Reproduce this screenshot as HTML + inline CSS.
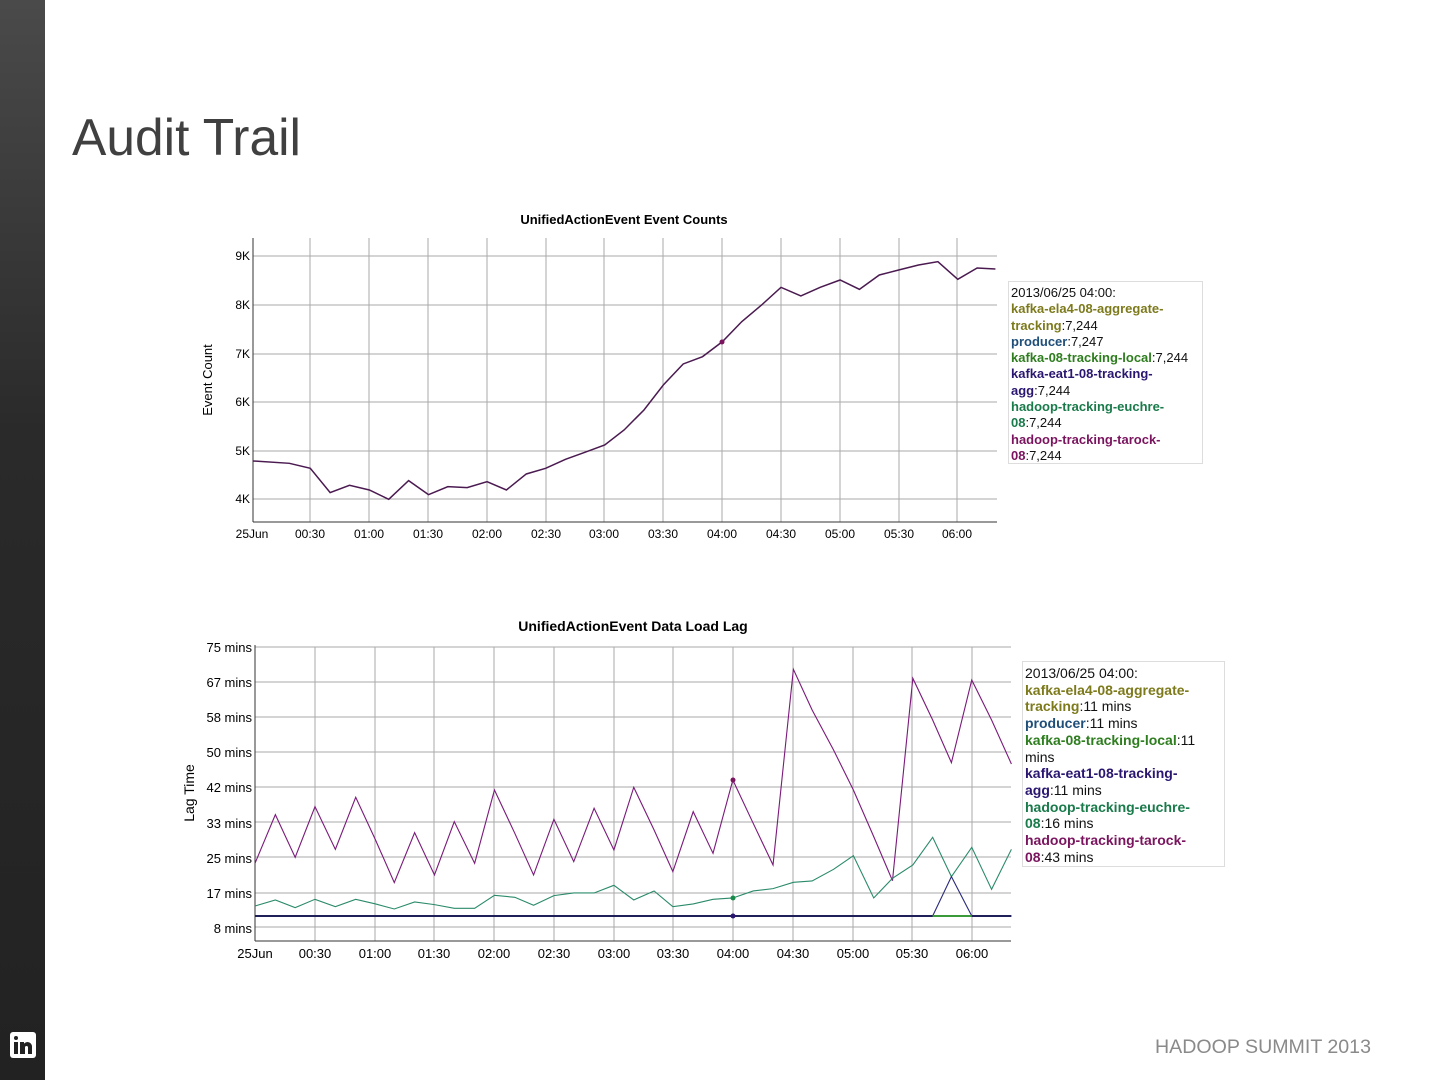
<!DOCTYPE html>
<html><head><meta charset="utf-8"><style>
body{margin:0;width:1440px;height:1080px;background:#fff;position:relative;overflow:hidden;font-family:"Liberation Sans",Arial,sans-serif}
.side{position:absolute;left:0;top:0;width:45px;height:1080px;background:linear-gradient(#4a4a4a,#2a2a2a 40%,#222)}
.title{position:absolute;left:72px;top:107px;font-size:51.5px;color:#404040}
.foot{position:absolute;left:1155px;top:1036px;font-size:19.6px;color:#8a8a8a}
.lg{position:absolute;border:1px solid #ddd;background:#fff;font-size:13px;line-height:16.3px;color:#111;padding:3px 2px;box-sizing:border-box}
.lg b{font-weight:bold}
.c1{color:#7d7a1c}.c2{color:#1f4e79}.c3{color:#2e7d1e}.c4{color:#2a1670}.c5{color:#197a4a}.c6{color:#7a145e}
svg text{font-family:"Liberation Sans",Arial,sans-serif}
</style></head><body>
<div class="side"></div>
<div style="position:absolute;left:10px;top:1032px;width:26px;height:26px;background:#fff;border-radius:3px"><div style="position:absolute;left:4px;top:4px;width:4px;height:4px;background:#222;border-radius:2px"></div><div style="position:absolute;left:4px;top:10px;width:4px;height:12px;background:#222"></div><div style="position:absolute;left:10px;top:10px;width:4px;height:12px;background:#222"></div><div style="position:absolute;left:13px;top:10px;width:9px;height:12px;background:#222;border-radius:5px 5px 0 0"></div><div style="position:absolute;left:15px;top:14px;width:3px;height:8px;background:#fff;border-radius:2px 2px 0 0"></div></div>
<div class="title">Audit Trail</div>
<div class="foot">HADOOP SUMMIT 2013</div>
<svg width="1440" height="1080" style="position:absolute;left:0;top:0">
<g stroke="#aaa" stroke-width="1">
<line x1="253" y1="256" x2="997" y2="256"/><line x1="253" y1="305" x2="997" y2="305"/><line x1="253" y1="354" x2="997" y2="354"/><line x1="253" y1="402" x2="997" y2="402"/><line x1="253" y1="451" x2="997" y2="451"/><line x1="253" y1="499" x2="997" y2="499"/>
<line x1="310" y1="238" x2="310" y2="522"/><line x1="369" y1="238" x2="369" y2="522"/><line x1="428" y1="238" x2="428" y2="522"/><line x1="487" y1="238" x2="487" y2="522"/><line x1="546" y1="238" x2="546" y2="522"/><line x1="604" y1="238" x2="604" y2="522"/><line x1="663" y1="238" x2="663" y2="522"/><line x1="722" y1="238" x2="722" y2="522"/><line x1="781" y1="238" x2="781" y2="522"/><line x1="840" y1="238" x2="840" y2="522"/><line x1="899" y1="238" x2="899" y2="522"/><line x1="957" y1="238" x2="957" y2="522"/>
</g>
<g stroke="#333"><line x1="253" y1="238" x2="253" y2="522"/><line x1="253" y1="522" x2="997" y2="522"/></g>
<text x="624" y="224" font-size="13" font-weight="bold" text-anchor="middle">UnifiedActionEvent Event Counts</text>
<g font-size="12" text-anchor="end"><text x="250" y="260">9K</text><text x="250" y="309">8K</text><text x="250" y="358">7K</text><text x="250" y="406">6K</text><text x="250" y="455">5K</text><text x="250" y="503">4K</text></g>
<g font-size="12" text-anchor="middle"><text x="252" y="538">25Jun</text><text x="310" y="538">00:30</text><text x="369" y="538">01:00</text><text x="428" y="538">01:30</text><text x="487" y="538">02:00</text><text x="546" y="538">02:30</text><text x="604" y="538">03:00</text><text x="663" y="538">03:30</text><text x="722" y="538">04:00</text><text x="781" y="538">04:30</text><text x="840" y="538">05:00</text><text x="899" y="538">05:30</text><text x="957" y="538">06:00</text></g>
<text transform="translate(212,380) rotate(-90)" font-size="13" text-anchor="middle">Event Count</text>
<g transform="translate(190,200) scale(0.523,0.3333)">
<polyline fill="none" stroke="#4a1a50" stroke-width="1.5" vector-effect="non-scaling-stroke" points="120,783 190,790 230,805 268,878 305,856 343,870 380,898 418,842 456,884 493,860 530,863 568,845 605,870 643,822 680,805 718,778 755,757 793,735 830,690 868,630 905,555 943,492 980,470 1018,425 1055,365 1093,315 1130,262 1168,288 1205,262 1243,240 1280,268 1318,225 1355,210 1393,195 1430,185 1468,238 1505,204 1540,207"/>
</g>
<circle cx="722" cy="342" r="2.5" fill="#7a145e"/>

<g stroke="#aaa" stroke-width="1">
<line x1="255" y1="647" x2="1011" y2="647"/><line x1="255" y1="682" x2="1011" y2="682"/><line x1="255" y1="717" x2="1011" y2="717"/><line x1="255" y1="752" x2="1011" y2="752"/><line x1="255" y1="787" x2="1011" y2="787"/><line x1="255" y1="822" x2="1011" y2="822"/><line x1="255" y1="857" x2="1011" y2="857"/><line x1="255" y1="893" x2="1011" y2="893"/><line x1="255" y1="927" x2="1011" y2="927"/>
<line x1="315" y1="647" x2="315" y2="941"/><line x1="375" y1="647" x2="375" y2="941"/><line x1="434" y1="647" x2="434" y2="941"/><line x1="494" y1="647" x2="494" y2="941"/><line x1="554" y1="647" x2="554" y2="941"/><line x1="614" y1="647" x2="614" y2="941"/><line x1="673" y1="647" x2="673" y2="941"/><line x1="733" y1="647" x2="733" y2="941"/><line x1="793" y1="647" x2="793" y2="941"/><line x1="853" y1="647" x2="853" y2="941"/><line x1="912" y1="647" x2="912" y2="941"/><line x1="972" y1="647" x2="972" y2="941"/>
</g>
<g stroke="#333"><line x1="255" y1="645" x2="255" y2="941"/><line x1="255" y1="941" x2="1011" y2="941"/></g>
<text x="633" y="631" font-size="14" font-weight="bold" text-anchor="middle">UnifiedActionEvent Data Load Lag</text>
<g font-size="13" text-anchor="end"><text x="252" y="652">75 mins</text><text x="252" y="687">67 mins</text><text x="252" y="722">58 mins</text><text x="252" y="757">50 mins</text><text x="252" y="792">42 mins</text><text x="252" y="828">33 mins</text><text x="252" y="863">25 mins</text><text x="252" y="898">17 mins</text><text x="252" y="933">8 mins</text></g>
<g font-size="13" text-anchor="middle"><text x="255" y="958">25Jun</text><text x="315" y="958">00:30</text><text x="375" y="958">01:00</text><text x="434" y="958">01:30</text><text x="494" y="958">02:00</text><text x="554" y="958">02:30</text><text x="614" y="958">03:00</text><text x="673" y="958">03:30</text><text x="733" y="958">04:00</text><text x="793" y="958">04:30</text><text x="853" y="958">05:00</text><text x="912" y="958">05:30</text><text x="972" y="958">06:00</text></g>
<text transform="translate(194,793) rotate(-90)" font-size="14" text-anchor="middle">Lag Time</text>
<g transform="translate(180,610) scale(0.5357,0.3333)" fill="none" vector-effect="non-scaling-stroke">
<polyline stroke="#7a1a7a" stroke-width="1.1" vector-effect="non-scaling-stroke" points="140,760 178,614 215,742 252,590 290,718 328,562 365,690 400,818 438,668 475,795 512,635 550,760 587,540 625,670 660,795 698,628 735,755 773,595 810,720 847,532 885,660 920,785 958,605 995,730 1032,510 1070,640 1107,765 1145,178 1180,300 1220,420 1257,540 1295,680 1330,812 1368,205 1405,330 1440,458 1478,210 1515,330 1552,462"/>
<polyline stroke="#2a8a6a" stroke-width="1.1" vector-effect="non-scaling-stroke" points="140,888 178,870 215,893 252,868 290,890 328,868 365,882 400,897 438,876 475,884 512,895 550,895 587,856 625,862 660,886 698,857 735,849 773,849 810,826 847,870 885,843 920,890 958,882 995,868 1032,864 1070,843 1107,836 1145,817 1180,813 1220,778 1257,737 1295,864 1330,805 1368,765 1405,682 1440,800 1478,712 1515,838 1552,718"/>
<polyline stroke="#2a2a7a" stroke-width="1.1" vector-effect="non-scaling-stroke" points="1405,918 1440,800 1478,918"/>
<line x1="140" y1="918" x2="1552" y2="918" stroke="#1f1f5a" stroke-width="2" vector-effect="non-scaling-stroke"/>
<line x1="1405" y1="918" x2="1478" y2="918" stroke="#3a9a3a" stroke-width="2" vector-effect="non-scaling-stroke"/>
</g>
<circle cx="733" cy="780" r="2.5" fill="#7a145e"/><circle cx="733" cy="898" r="2.5" fill="#1a8a4a"/><circle cx="733" cy="916" r="2.5" fill="#2a1670"/>
</svg>
<div class="lg" style="left:1008px;top:281px;width:195px;height:183px">2013/06/25 04:00:<br><b class="c1">kafka-ela4-08-aggregate-<br>tracking</b>:7,244<br><b class="c2">producer</b>:7,247<br><b class="c3">kafka-08-tracking-local</b>:7,244<br><b class="c4">kafka-eat1-08-tracking-<br>agg</b>:7,244<br><b class="c5">hadoop-tracking-euchre-<br>08</b>:7,244<br><b class="c6">hadoop-tracking-tarock-<br>08</b>:7,244</div>
<div class="lg" style="left:1022px;top:661px;width:203px;height:206px;font-size:14px;line-height:16.7px">2013/06/25 04:00:<br><b class="c1">kafka-ela4-08-aggregate-<br>tracking</b>:11 mins<br><b class="c2">producer</b>:11 mins<br><b class="c3">kafka-08-tracking-local</b>:11<br>mins<br><b class="c4">kafka-eat1-08-tracking-<br>agg</b>:11 mins<br><b class="c5">hadoop-tracking-euchre-<br>08</b>:16 mins<br><b class="c6">hadoop-tracking-tarock-<br>08</b>:43 mins</div>
</body></html>
